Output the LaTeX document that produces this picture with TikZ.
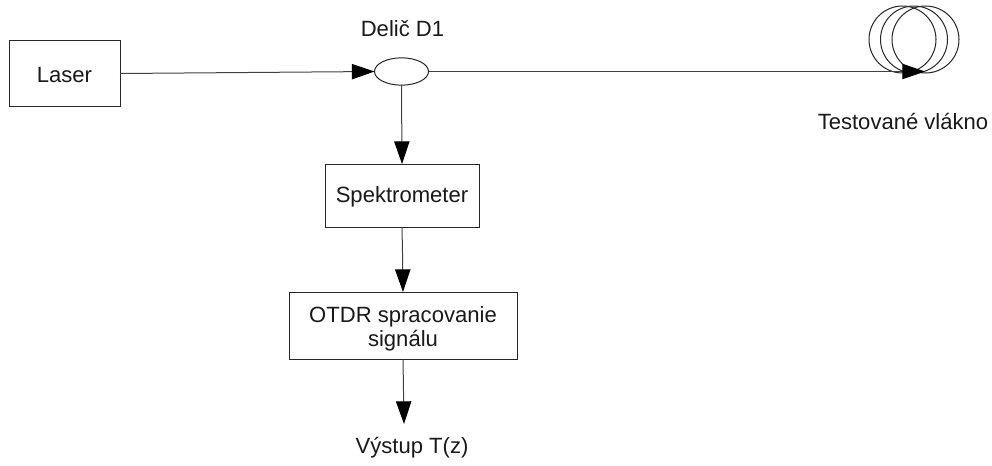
\documentclass[tikz,border=0pt]{standalone}
\usepackage{fontspec}
\setmainfont{Liberation Sans}
\usetikzlibrary{arrows.meta,shapes.geometric}
\tikzset{
  x=0.75pt,y=-0.75pt,
  every node/.style={font=\fontsize{16.55pt}{21pt}\selectfont,text=black!90,inner sep=0pt,outer sep=0pt},
  blockbox/.style={draw=black!85,line width=0.75pt,fill=white,align=center},
  lbl/.style={align=center},
  conn/.style={draw=black!75,line width=0.75pt,-{Triangle[length=17pt,width=11.5pt,fill=black,color=black]}},
  coil/.style={draw=black!85,line width=0.75pt},
}
\begin{document}
\begin{tikzpicture}
\useasboundingbox (0,0) rectangle (992,465);
\node[blockbox,minimum width=83.25pt,minimum height=49.5pt] (laser) at (64.5,73.5) {\raisebox{0pt}[12.8pt][0pt]{Laser}};
\node[draw=black!85,line width=0.75pt,ellipse,minimum width=40.5pt,minimum height=20.5pt] (delic) at (401.5,71.5) {};
\node[lbl] (delicl) at (402.5,29) {Delič D1};
\node[blockbox,minimum width=115.5pt,minimum height=47.25pt] (spek) at (402,195.5) {\raisebox{0pt}[13.5pt][3.5pt]{Spektrometer}};
\node[blockbox,minimum width=171pt,minimum height=50.25pt] (otdr) at (403,325.5) {\raisebox{0pt}[32pt][0pt]{\renewcommand\arraystretch{0.88}\begin{tabular}[b]{@{}c@{}}OTDR spracovanie\\ signálu\end{tabular}}};
\node[lbl] (vystup) at (412,448) {Výstup T(z)};
\node[lbl] (vlakno) at (903,121) {Testované vlákno};
\node[coil,circle,minimum size=50.25pt] (c1) at (902.5,39.5) {};
\node[coil,circle,minimum size=50.25pt] (c2) at (914,39.5) {};
\node[coil,circle,minimum size=50.25pt] (c3) at (925.5,39.5) {};
\coordinate (fibre) at (925,71.5);
\coordinate (bend) at (402.5,253);
\coordinate (out) at (404,424);
\draw[conn] (laser.east) -- (delic.west);
\draw[conn] (delic.east) -- (fibre);
\draw[conn] (delic.south) -- (spek.north);
\draw[conn] (spek.south) -- (bend) -- (otdr.north);
\draw[conn] (otdr.south) -- (out);
\end{tikzpicture}
\end{document}
